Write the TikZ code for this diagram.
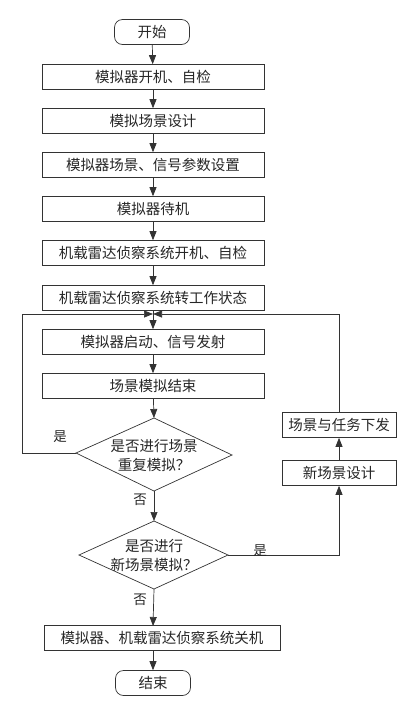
\documentclass[tikz,border=0pt]{standalone}
\usepackage{fontspec}
\setmainfont{Noto Sans CJK SC}
\usetikzlibrary{arrows.meta}
\begin{document}
\begin{tikzpicture}[x=1pt,y=-1pt,
  font=\fontsize{14.5pt}{19pt}\selectfont,
  every node/.style={text=black!85},
  line/.style={draw=black!80, line width=0.7pt},
  arr/.style={line, -{Triangle[length=9pt,width=7pt]}},
  boxn/.style={line, rectangle, minimum width=222pt, minimum height=25pt, inner sep=0pt},
  sbox/.style={line, rectangle, minimum width=114pt, minimum height=25pt, inner sep=0pt},
  term/.style={line, rounded corners=8pt, minimum width=75pt, minimum height=25pt, inner sep=0pt},
  lbl/.style={inner sep=0pt, font=\fontsize{13.5pt}{15pt}\selectfont}
]
\useasboundingbox (0,0) rectangle (420,705);
\node[term] (start) at (152,32) {开始};
\node[boxn] (b1) at (153,77) {模拟器开机、自检};
\node[boxn] (b2) at (153,121) {模拟场景设计};
\node[boxn] (b3) at (153,165) {模拟器场景、信号参数设置};
\node[boxn] (b4) at (153,209) {模拟器待机};
\node[boxn] (b5) at (153,253) {机载雷达侦察系统开机、自检};
\node[boxn] (b6) at (153,298) {机载雷达侦察系统转工作状态};
\coordinate (m) at (153,314);
\node[boxn] (b7) at (153,342) {模拟器启动、信号发射};
\node[boxn] (b8) at (153,386) {场景模拟结束};
% diamond 1
\node[align=center, inner sep=0pt] (d1) at (154,455) {是否进行场景\\重复模拟？};
\coordinate (d1t) at (154,418);
\coordinate (d1b) at (154,491);
\coordinate (d1l) at (76,453);
\coordinate (d1r) at (232,455);
\draw[line] (d1t) -- (d1r) -- (d1b) -- (d1l) -- cycle;
% diamond 2
\node[align=center, inner sep=0pt] (d2) at (154,555) {是否进行\\新场景模拟？};
\coordinate (d2t) at (154,521);
\coordinate (d2b) at (154,589);
\coordinate (d2l) at (79,555);
\coordinate (d2r) at (228,555);
\draw[line] (d2t) -- (d2r) -- (d2b) -- (d2l) -- cycle;
% right column
\node[sbox] (r1) at (339,425) {场景与任务下发};
\node[sbox] (r2) at (339,473) {新场景设计};
% end
\node[line, rectangle, minimum width=236pt, minimum height=25pt, inner sep=0pt] (b9) at (162,638) {模拟器、机载雷达侦察系统关机};
\node[term] (end) at (153,683) {结束};
% arrows
\draw[arr] (start) -- (b1);
\draw[arr] (b1) -- (b2);
\draw[arr] (b2) -- (b3);
\draw[arr] (b3) -- (b4);
\draw[arr] (b4) -- (b5);
\draw[arr] (b5) -- (b6);
\draw[arr] (b6) -- (b7);
\draw[arr] (b7) -- (b8);
\draw[arr] (b8) -- (d1t);
\draw[arr] (d1b) -- (d2t);
\draw[arr] (d2b) -- (153,626);
\draw[arr] (b9.south -| end) -- (end);
\draw[arr] (d1l) -- (22,453) |- (m);
\draw[arr] (r1.north) |- (m);
\draw[arr] (r2) -- (r1);
\draw[arr] (d2r) -| (r2.south);
% labels
\node[lbl] (y1) at (60,437) {是};
\node[lbl] (n1) at (140,500) {否};
\node[lbl] (n2) at (140,600) {否};
\node[lbl] (y2) at (260,551) {是};
\end{tikzpicture}
\end{document}
